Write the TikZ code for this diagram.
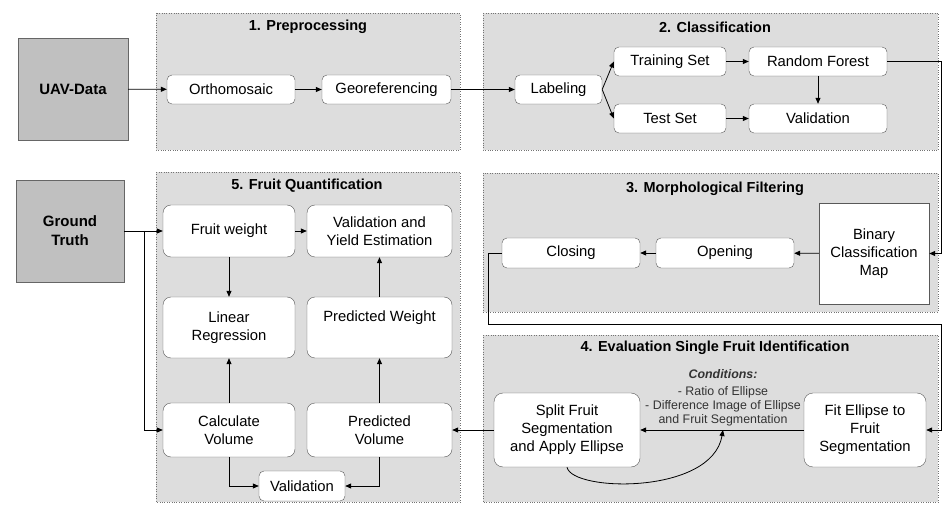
\documentclass[tikz,border=0pt]{standalone}
\usepackage{fontspec}
\setmainfont{Liberation Sans}
\usetikzlibrary{arrows.meta}
\definecolor{panelgray}{RGB}{221,221,221}
\definecolor{datagray}{RGB}{192,192,192}
\begin{document}
\begin{tikzpicture}[x=1pt,y=-1pt,
	panel/.style={draw=black!55, dotted, fill=panelgray},
	title/.style={font=\fontsize{14.5}{17}\selectfont\bfseries},
	databox/.style={draw=black!60, fill=datagray, inner sep=0pt, align=center, font=\fontsize{15}{19}\selectfont\bfseries},
	stepbox/.style={draw=black!65, fill=white, rounded corners=5pt, inner sep=0pt, align=center, font=\fontsize{14.8}{18}\selectfont},
	flow/.style={thick, -{Triangle[length=6pt,width=5pt]}}]
	\useasboundingbox (0,0) rectangle (943,505);
	% panels
	\draw[panel] (156,13) rectangle (460,150);
	\draw[panel] (483,13) rectangle (938,150);
	\draw[panel] (483,173) rectangle (938,312);
	\draw[panel] (483,335) rectangle (938,502);
	\draw[panel] (156,172) rectangle (460,502);
	\node[title] (t1) at (308,27) {1. Preprocessing};
	\node[title] (t2) at (715,27) {2. Classification};
	\node[title] (t3) at (715,189) {3. Morphological Filtering};
	\node[title] (t4) at (715,348) {4. Evaluation Single Fruit Identification};
	\node[title] (t5) at (307,186) {5. Fruit Quantification};
	% inputs
	\node[databox, minimum width=110, minimum height=102] (uav) at (73,89) {UAV-Data};
	\node[databox, minimum width=108, minimum height=102] (gt) at (70,231) {Ground\\Truth};
	% 1 + 2
	\node[stepbox, minimum width=128, minimum height=29] (ortho) at (231,89.5) {Orthomosaic};
	\node[stepbox, minimum width=129, minimum height=29] (georef) at (386.5,89.5) {Georeferencing};
	\node[stepbox, minimum width=87, minimum height=29] (label) at (558.5,89.5) {Labeling};
	\node[stepbox, minimum width=112, minimum height=29] (train) at (670,61.5) {Training Set};
	\node[stepbox, minimum width=138, minimum height=29] (rf) at (818,61.5) {Random Forest};
	\node[stepbox, minimum width=112, minimum height=29] (test) at (670,118.5) {Test Set};
	\node[stepbox, minimum width=138, minimum height=29] (valid) at (818,118.5) {Validation};
	% 3
	\node[stepbox, rounded corners=0pt, minimum width=110, minimum height=101] (bcm) at (874,253.5) {Binary\\Classification\\Map};
	\node[stepbox, minimum width=138, minimum height=30] (opening) at (725,253) {Opening};
	\node[stepbox, minimum width=138, minimum height=30] (closing) at (571,253) {Closing};
	% 4
	\node[stepbox, rounded corners=9pt, minimum width=146, minimum height=74] (split) at (567,430) {Split Fruit\\Segmentation\\and Apply Ellipse};
	\node[stepbox, rounded corners=9pt, minimum width=122, minimum height=74] (fit) at (865,430) {Fit Ellipse to\\Fruit\\Segmentation};
	\node[align=center, text=black!80, font=\fontsize{12.4}{14}\selectfont] (cond) at (723,398) {\textbf{\textit{Conditions:}}\\[3pt]- Ratio of Ellipse\\- Difference Image of Ellipse\\and Fruit Segmentation};
	% 5
	\node[stepbox, rounded corners=8pt, minimum width=132, minimum height=52] (fweight) at (229,231) {Fruit weight};
	\node[stepbox, rounded corners=8pt, minimum width=145, minimum height=52] (yield) at (379.5,231) {Validation and\\Yield Estimation};
	\node[stepbox, rounded corners=8pt, minimum width=132, minimum height=61] (linreg) at (229,327.5) {Linear\\Regression};
	\node[stepbox, rounded corners=8pt, minimum width=145, minimum height=61] (pweight) at (379.5,327.5) {Predicted Weight\\[4pt]};
	\node[stepbox, rounded corners=8pt, minimum width=132, minimum height=54] (calcvol) at (229,430) {Calculate\\Volume};
	\node[stepbox, rounded corners=8pt, minimum width=145, minimum height=54] (predvol) at (379.5,430) {Predicted\\Volume};
	\node[stepbox, minimum width=86, minimum height=30] (val5) at (302,486) {Validation};
	\coordinate (gtsplit) at (144,231);
	\coordinate (edgeA) at (941,324);
	% connectors
	\draw[flow] (uav) -- (ortho);
	\draw[flow] (ortho) -- (georef);
	\draw[flow] (georef) -- (label);
	\draw[flow] (label.east) -- (train.west);
	\draw[flow] (label.east) -- (test.west);
	\draw[flow] (train) -- (rf);
	\draw[flow] (test) -- (valid);
	\draw[flow] (rf) -- (valid);
	\draw[flow] (rf.east) -- ++(54,0) |- (bcm.east);
	\draw[flow] (bcm) -- (opening);
	\draw[flow] (opening) -- (closing);
	\draw[flow] (closing.west) -- ++(-13,0) |- (edgeA) |- (fit.east);
	\draw[flow] (fit) -- (split);
	\draw[flow] (split.south) .. controls (572,492) and (712,495) .. (cond.south |- split.east);
	\draw[flow] (split) -- (predvol);
	\draw[flow] (gt) -- (fweight);
	\draw[flow] (gtsplit) |- (calcvol.west);
	\draw[flow] (fweight) -- (yield);
	\draw[flow] (fweight) -- (linreg);
	\draw[flow] (calcvol) -- (linreg);
	\draw[flow] (predvol) -- (pweight);
	\draw[flow] (pweight) -- (yield);
	\draw[flow] (calcvol.south) |- (val5.west);
	\draw[flow] (predvol.south) |- (val5.east);
\end{tikzpicture}
\end{document}
